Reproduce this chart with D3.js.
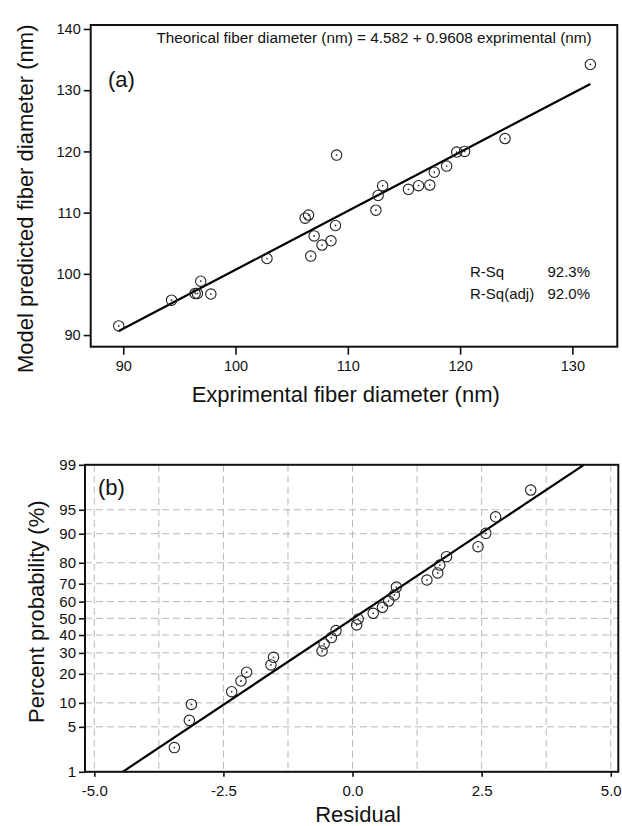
<!DOCTYPE html>
<html><head><meta charset="utf-8">
<script src="https://cdn.jsdelivr.net/npm/d3@7"></script>
<style>
body{margin:0;background:#fff}
text{font-family:"Liberation Sans",Arial,Helvetica,sans-serif;fill:#111}
</style>
</head><body>
<svg id="c" width="622" height="826"></svg>
<script>
// ---------- Panel (a) data ----------
const expDiameter  = [89.6, 94.3, 96.4, 96.6, 96.9, 97.8, 102.8, 106.2, 106.5, 106.7, 107.0, 107.7, 108.5, 108.9, 109.0, 112.5, 112.7, 113.1, 115.4, 116.3, 117.3, 117.7, 118.8, 119.7, 120.4, 124.0, 131.6];
const predDiameter = [91.5, 95.7, 96.8, 96.8, 98.8, 96.7, 102.5, 109.1, 109.6, 102.9, 106.2, 104.7, 105.4, 107.9, 119.4, 110.4, 112.8, 114.4, 113.8, 114.4, 114.5, 116.6, 117.6, 119.9, 120.0, 122.1, 134.2];
const fitIntercept = 4.582;
const fitSlope = 0.9608;
const xTicksA = [90, 100, 110, 120, 130];
const yTicksA = [90, 100, 110, 120, 130, 140];
const equationLabel = "Theorical fiber diameter (nm) = 4.582 + 0.9608 exprimental (nm)";
const rSqLabels = ["R-Sq", "R-Sq(adj)"];
const rSqValues = ["92.3%", "92.0%"];
const xTitleA = "Exprimental fiber diameter (nm)";
const yTitleA = "Model predicted fiber diameter (nm)";

// ---------- Panel (b) data ----------
const residual    = [-3.45, -3.16, -3.12, -2.34, -2.16, -2.05, -1.58, -1.53, -0.59, -0.55, -0.41, -0.32, 0.08, 0.11, 0.40, 0.58, 0.70, 0.81, 0.85, 1.44, 1.65, 1.69, 1.82, 2.43, 2.58, 2.77, 3.45];
const percentProb = [2.5, 6.1, 9.6, 13.3, 17.1, 20.7, 24.0, 27.7, 31.0, 34.9, 38.5, 42.6, 46.0, 49.6, 53.0, 56.6, 60.3, 63.8, 68.2, 71.9, 75.4, 79.0, 82.5, 86.1, 90.1, 93.8, 97.4];
const refLineResidual = [-4.45, 4.48];
const refLinePercent  = [1, 99];
const xTicksB = [-5, -2.5, 0, 2.5, 5];
const xGridB  = [-5, -3.75, -2.5, -1.25, 0, 1.25, 2.5, 3.75, 5];
const yTicksB = [1, 5, 10, 20, 30, 40, 50, 60, 70, 80, 90, 95, 99];
const xTitleB = "Residual";
const yTitleB = "Percent probability (%)";

// inverse standard normal CDF (Acklam)
function qnorm(p){
  const a=[-3.969683028665376e+01,2.209460984245205e+02,-2.759285104469687e+02,1.383577518672690e+02,-3.066479806614716e+01,2.506628277459239e+00];
  const b=[-5.447609879822406e+01,1.615858368580409e+02,-1.556989798598866e+02,6.680131188771972e+01,-1.328068155288572e+01];
  const c=[-7.784894002430293e-03,-3.223964580411365e-01,-2.400758277161838e+00,-2.549732539343734e+00,4.374664141464968e+00,2.938163982698783e+00];
  const d=[7.784695709041462e-03,3.224671290700398e-01,2.445134137142996e+00,3.754408661907416e+00];
  const pl=0.02425, ph=1-pl; let q,r;
  if(p<pl){q=Math.sqrt(-2*Math.log(p));return (((((c[0]*q+c[1])*q+c[2])*q+c[3])*q+c[4])*q+c[5])/((((d[0]*q+d[1])*q+d[2])*q+d[3])*q+1);}
  if(p<=ph){q=p-0.5;r=q*q;return (((((a[0]*r+a[1])*r+a[2])*r+a[3])*r+a[4])*r+a[5])*q/(((((b[0]*r+b[1])*r+b[2])*r+b[3])*r+b[4])*r+1);}
  q=Math.sqrt(-2*Math.log(1-p));return -(((((c[0]*q+c[1])*q+c[2])*q+c[3])*q+c[4])*q+c[5])/((((d[0]*q+d[1])*q+d[2])*q+d[3])*q+1);
}

const svg = d3.select("#c");
svg.append("rect").attr("width",622).attr("height",826).attr("fill","#fff");

function styleAxis(g, fs){
  g.select(".domain").remove();
  g.selectAll(".tick line").attr("stroke","#111").attr("stroke-width",1.6);
  g.selectAll(".tick text").attr("font-size",fs).attr("fill","#222")
    .attr("font-family",'"Liberation Sans",Arial,sans-serif');
}
function marker(g, cx, cy){
  g.append("circle").attr("cx",cx).attr("cy",cy).attr("r",5.2)
    .attr("fill","none").attr("stroke","#222").attr("stroke-width",1.1);
  g.append("circle").attr("cx",cx).attr("cy",cy).attr("r",0.9).attr("fill","#333");
}

// ================= Panel (a) =================
const A = {l:90.7, r:617.3, t:25, b:346.7};
const xA = d3.scaleLinear().domain([87.1, 134.0]).range([A.l, A.r]);
const yA = d3.scaleLinear().domain([88.1, 140.65]).range([A.b, A.t]);
const gA = svg.append("g");

gA.append("g").attr("transform",`translate(${A.l},0)`)
  .call(d3.axisLeft(yA).tickValues(yTicksA).tickSize(7).tickPadding(3).tickFormat(d3.format("d")))
  .call(g=>styleAxis(g,"14.5px"));
gA.append("g").attr("transform",`translate(0,${A.b})`)
  .call(d3.axisBottom(xA).tickValues(xTicksA).tickSize(8).tickPadding(6).tickFormat(d3.format("d")))
  .call(g=>styleAxis(g,"14.5px"));

// fit line
const fx = d3.extent(expDiameter);
gA.append("path")
  .datum(fx.map(x=>[x, fitIntercept + fitSlope*x]))
  .attr("d", d3.line().x(d=>xA(d[0])).y(d=>yA(d[1])))
  .attr("fill","none").attr("stroke","#000").attr("stroke-width",2.2);

const ptsA = gA.append("g");
expDiameter.forEach((x,i)=>marker(ptsA, xA(x), yA(predDiameter[i])));

gA.append("rect").attr("x",A.l).attr("y",A.t).attr("width",A.r-A.l).attr("height",A.b-A.t)
  .attr("fill","none").attr("stroke","#111").attr("stroke-width",2);

gA.append("text").attr("x",591.7).attr("y",42.5).attr("text-anchor","end")
  .attr("font-size","15.3px").text(equationLabel);
gA.append("text").attr("x",108).attr("y",87).attr("font-size","22px").text("(a)");
rSqLabels.forEach((t,i)=>{
  gA.append("text").attr("x",470).attr("y",277+22*i).attr("font-size","15px").text(t);
  gA.append("text").attr("x",590).attr("y",277+22*i).attr("text-anchor","end").attr("font-size","15px").text(rSqValues[i]);
});
gA.append("text").attr("x",191.7).attr("y",401.5).attr("font-size","22px").text(xTitleA);
gA.append("text").attr("transform","translate(33,373) rotate(-90)").attr("font-size","22px").text(yTitleA);

// ================= Panel (b) =================
const B = {l:85, r:618.3, t:464.8, b:771.8};
const xB = d3.scaleLinear().domain([-5.18, 5.146]).range([B.l, B.r]);
const zB = d3.scaleLinear().domain([qnorm(0.01), qnorm(0.99)]).range([B.b, B.t]);
const yB = p => zB(qnorm(p/100));
const gB = svg.append("g");

// grid
gB.append("g").selectAll("line.h").data(yTicksB).join("line")
  .attr("x1",B.l).attr("x2",B.r).attr("y1",d=>yB(d)).attr("y2",d=>yB(d))
  .attr("stroke","#b8b8b8").attr("stroke-width",1).attr("stroke-dasharray","7,4");
gB.append("g").selectAll("line.v").data(xGridB).join("line")
  .attr("x1",d=>xB(d)).attr("x2",d=>xB(d)).attr("y1",B.t).attr("y2",B.b)
  .attr("stroke","#b8b8b8").attr("stroke-width",1).attr("stroke-dasharray","7,4");

gB.append("g").attr("transform",`translate(${B.l},0)`)
  .call(d3.axisLeft(zB).tickValues(yTicksB.map(p=>qnorm(p/100))).tickSize(6).tickPadding(3)
        .tickFormat((d,i)=>String(yTicksB[i])))
  .call(g=>styleAxis(g,"15px"));
gB.append("g").attr("transform",`translate(0,${B.b})`)
  .call(d3.axisBottom(xB).tickValues(xTicksB).tickSize(5).tickPadding(9).tickFormat(d=>d.toFixed(1)))
  .call(g=>styleAxis(g,"15px"));

gB.append("path")
  .datum(refLineResidual.map((r,i)=>[r, refLinePercent[i]]))
  .attr("d", d3.line().x(d=>xB(d[0])).y(d=>yB(d[1])))
  .attr("fill","none").attr("stroke","#000").attr("stroke-width",2.2);

const ptsB = gB.append("g");
residual.forEach((r,i)=>marker(ptsB, xB(r), yB(percentProb[i])));

gB.append("rect").attr("x",B.l).attr("y",B.t).attr("width",B.r-B.l).attr("height",B.b-B.t)
  .attr("fill","none").attr("stroke","#111").attr("stroke-width",2);

gB.append("text").attr("x",98).attr("y",495).attr("font-size","22px").text("(b)");
gB.append("text").attr("x",358).attr("y",822).attr("text-anchor","middle").attr("font-size","22px").text(xTitleB);
gB.append("text").attr("transform","translate(43.5,611.7) rotate(-90)").attr("text-anchor","middle")
  .attr("font-size","22px").text(yTitleB);
</script>
</body></html>
